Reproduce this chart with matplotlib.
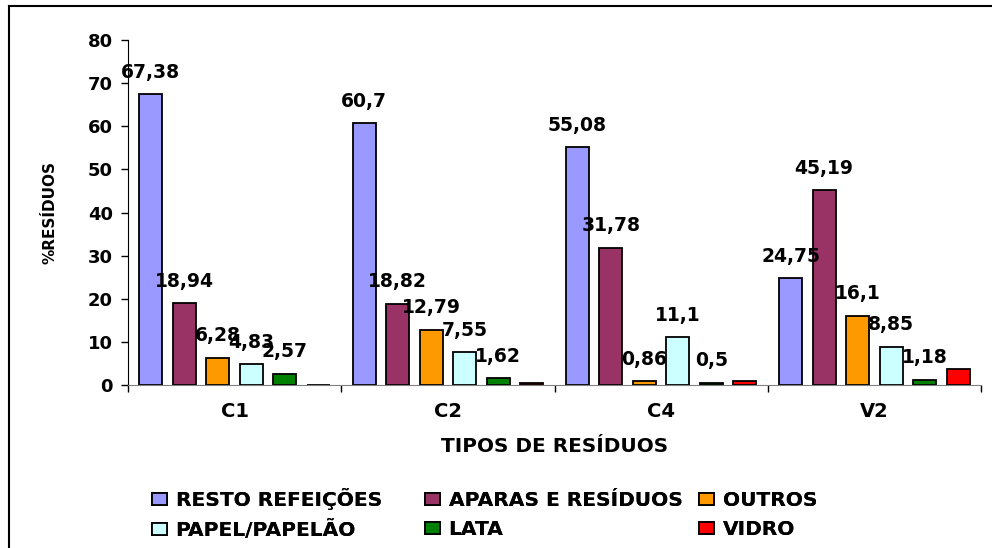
#!/usr/bin/env python3
import matplotlib.pyplot as plt
import numpy as np

plt.rcParams['font.family'] = ['DejaVu Sans']
plt.rcParams['font.weight'] = 'bold'

groups = ["C1", "C2", "C4", "V2"]

series_names = ["RESTO REFEIÇÕES", "APARAS E RESÍDUOS", "OUTROS",
                "PAPEL/PAPELÃO", "LATA", "VIDRO"]
series_colors = ["#9999FF", "#993366", "#FF9900", "#CCFFFF", "#008000", "#FF0000"]

resto = [67.38, 60.7, 55.08, 24.75]
aparas = [18.94, 18.82, 31.78, 45.19]
outros = [6.28, 12.79, 0.86, 16.1]
papel = [4.83, 7.55, 11.1, 8.85]
lata = [2.57, 1.62, 0.5, 1.18]
vidro = [0.0, 0.45, 0.9, 3.8]

# vidro has no labels in the original
show_label = [True, True, True, True, True, False]

all_series = [resto, aparas, outros, papel, lata, vidro]


def fmt(v):
    s = f"{v:.2f}".rstrip("0").rstrip(".")
    return s.replace(".", ",")


fig = plt.figure(figsize=(9.92, 5.48), dpi=100)
ax = fig.add_axes([128 / 992, 1 - 385 / 548, (981 - 128) / 992, (385 - 40) / 548])

x = np.arange(len(groups))
slot = 0.157
width = 0.108
handles = []
for i, (vals, name, col) in enumerate(zip(all_series, series_names, series_colors)):
    pos = x + 0.5 + (i - 2.5) * slot
    b = ax.bar(pos, vals, width, color=col, edgecolor="black", linewidth=1.3, label=name)
    handles.append(b)
    if show_label[i]:
        for p, v in zip(pos, vals):
            ax.annotate(fmt(v), (p, v), xytext=(0, 9), textcoords="offset points",
                        ha="center", va="bottom", fontsize=13.5, fontweight="bold")

ax.set_xlim(0, len(groups))
ax.set_ylim(0, 80)
ax.set_yticks(range(0, 81, 10))
ax.tick_params(axis="y", direction="out", length=5, width=1, labelsize=13, pad=6)
ax.set_xticks(x + 0.5)
ax.set_xticklabels(groups, fontsize=14, fontweight="bold")
ax.set_xticks(np.arange(len(groups) + 1), minor=True)
ax.tick_params(axis="x", which="major", length=0, pad=12)
ax.tick_params(axis="x", which="minor", direction="out", length=5, width=1, color="black")

ax.spines["top"].set_visible(False)
ax.spines["right"].set_visible(False)
ax.spines["bottom"].set_color("#808080")
ax.spines["left"].set_color("black")

ax.set_ylabel("%RESÍDUOS", fontsize=11, fontweight="bold", va="center")
ax.yaxis.set_label_coords(-0.091, 0.5)
ax.set_xlabel("TIPOS DE RESÍDUOS", fontsize=14.4, fontweight="bold", va="center")
ax.xaxis.set_label_coords(0.5, -0.177)

# legend laid out in three columns like the original
# (first column sits a bit higher: its accents make the text boxes taller)
cols = [(0, 3), (1, 4), (2, 5)]
col_x = [152 / 992, 425 / 992, 699 / 992]
col_top = [488 / 548, 491 / 548, 491 / 548]
for (a, b), cx, ct in zip(cols, col_x, col_top):
    lg = fig.legend([handles[a], handles[b]], [series_names[a], series_names[b]],
                    loc="upper left", bbox_to_anchor=(cx, 1 - ct),
                    frameon=False, borderpad=0, borderaxespad=0,
                    handlelength=0.72, handleheight=0.55, handletextpad=0.45,
                    labelspacing=0.5, prop={"size": 14.5, "weight": "bold"})
    fig.add_artist(lg)

# outer chart frame (only top and left edges visible)
fig.add_artist(plt.Line2D([9 / 992, 9 / 992], [0, 1 - 6 / 548], transform=fig.transFigure,
                          color="black", linewidth=1.5))
fig.add_artist(plt.Line2D([9 / 992, 1], [1 - 6 / 548, 1 - 6 / 548], transform=fig.transFigure,
                          color="black", linewidth=1.5))

fig.savefig("out.png", dpi=100)
plt.close(fig)
